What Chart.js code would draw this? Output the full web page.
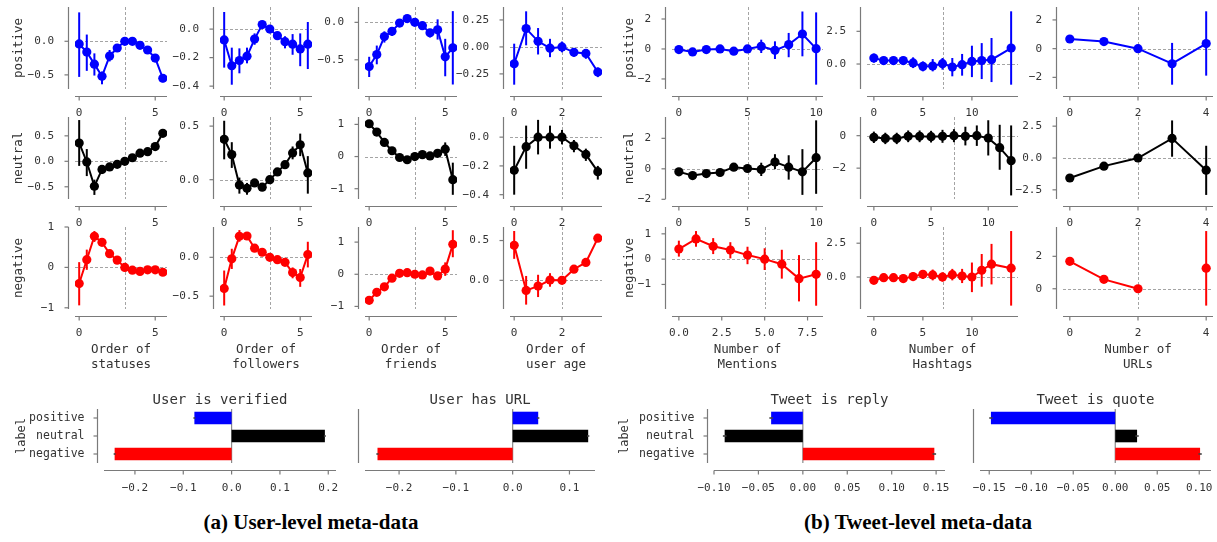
<!DOCTYPE html>
<html><head><meta charset="utf-8">
<script src="https://cdn.jsdelivr.net/npm/chart.js@4.4.0/dist/chart.umd.min.js"></script>
<style>
html,body{margin:0;padding:0;background:#fff;}
#wrap{position:relative;width:1217px;height:542px;overflow:hidden;background:#fff;}
canvas{position:absolute;}
.cap{position:absolute;font-family:'Liberation Serif',serif;font-weight:bold;font-size:21px;line-height:24px;color:#000;white-space:nowrap;transform:translateX(-50%);}
</style></head><body><div id="wrap">
<div class="cap" style="left:311px;top:510px">(a) User-level meta-data</div>
<div class="cap" style="left:918px;top:510px">(b) Tweet-level meta-data</div>
</div>
<script>
// ---------- x positions ----------
const xHalf = [0,0.5,1,1.5,2,2.5,3,3.5,4,4.5,5,5.5];
const xAge = [0,0.5,1,1.5,2,2.5,3,3.5];
const xMent = [0,1,2,3,4,5,6,7,8,9,10];
const xMentNeg = [0,1,2,3,4,5,6,7,8];
const xHash = [0,1,2,3,4,5,6,7,8,9,10,11,12,14];
const xHashNeu = [0,1,2,3,4,5,6,7,8,9,10,11,12];
const xUrl = [0,1,2,3,4];

// ---------- positive row ----------
const statusesPos   = [-0.04,-0.16,-0.34,-0.52,-0.22,-0.10,0.0,0.0,-0.06,-0.13,-0.25,-0.55];
const statusesPosLo = [-0.53,-0.44,-0.51,-0.64,-0.30,-0.15,-0.03,-0.03,-0.09,-0.16,-0.29,-0.61];
const statusesPosHi = [0.43,0.10,-0.18,-0.45,-0.13,-0.05,0.03,0.03,-0.03,-0.10,-0.21,-0.49];
const followersPos   = [-0.076,-0.257,-0.22,-0.19,-0.07,0.032,0.0,-0.046,-0.088,-0.106,-0.139,-0.106];
const followersPosLo = [-0.27,-0.39,-0.31,-0.24,-0.11,0.01,-0.02,-0.07,-0.135,-0.18,-0.26,-0.28];
const followersPosHi = [0.12,-0.13,-0.135,-0.13,-0.03,0.05,0.02,-0.02,-0.05,-0.035,-0.03,0.05];
const friendsPos   = [-0.59,-0.43,-0.19,-0.12,-0.01,0.05,0.0,-0.045,-0.14,-0.10,-0.46,-0.34];
const friendsPosLo = [-0.73,-0.56,-0.27,-0.18,-0.05,0.01,-0.03,-0.08,-0.20,-0.23,-0.72,-0.83];
const friendsPosHi = [-0.46,-0.31,-0.12,-0.08,0.02,0.08,0.03,-0.01,-0.09,0.04,-0.22,0.15];
const agePos   = [-0.156,0.17,0.052,-0.012,0.0,-0.05,-0.06,-0.233];
const agePosLo = [-0.35,0.015,-0.07,-0.095,-0.05,-0.09,-0.11,-0.28];
const agePosHi = [0.03,0.33,0.175,0.075,0.05,-0.02,-0.025,-0.19];
const mentPos   = [-0.04,-0.2,-0.04,0.0,-0.15,0.0,0.18,-0.09,0.29,1.0,0.02];
const mentPosLo = [-0.2,-0.35,-0.2,-0.17,-0.35,-0.15,-0.27,-0.67,-0.55,-0.49,-2.38];
const mentPosHi = [0.12,-0.05,0.12,0.17,0.05,0.15,0.62,0.51,1.07,2.5,2.44];
const hashPos   = [0.46,0.26,0.26,0.26,0.08,-0.18,-0.15,0.03,-0.23,-0.05,0.2,0.26,0.33,1.22];
const hashPosLo = [0.1,-0.05,-0.05,-0.05,-0.31,-0.56,-0.56,-0.43,-0.94,-0.89,-1.0,-1.15,-1.38,-1.58];
const hashPosHi = [0.8,0.55,0.55,0.55,0.51,0.2,0.38,0.46,0.46,0.77,1.4,1.6,1.99,4.03];
const urlPos   = [0.67,0.49,0.0,-1.05,0.35];
const urlPosLo = [0.55,0.37,-0.1,-2.51,-1.88];
const urlPosHi = [0.79,0.61,0.1,0.4,2.6];

// ---------- neutral row ----------
const statusesNeu   = [0.36,-0.013,-0.49,-0.16,-0.11,-0.06,0.0,0.07,0.16,0.19,0.29,0.55];
const statusesNeuLo = [-0.09,-0.29,-0.66,-0.25,-0.17,-0.10,-0.03,0.03,0.11,0.14,0.24,0.5];
const statusesNeuHi = [0.81,0.24,-0.36,-0.08,-0.05,-0.02,0.03,0.11,0.21,0.24,0.34,0.6];
const followersNeu   = [0.377,0.234,-0.05,-0.08,-0.03,-0.07,0.0,0.073,0.14,0.25,0.326,0.063];
const followersNeuLo = [0.19,0.11,-0.13,-0.14,-0.06,-0.1,-0.02,0.05,0.11,0.19,0.22,-0.13];
const followersNeuHi = [0.55,0.35,0.02,-0.03,0.0,-0.04,0.02,0.1,0.17,0.31,0.43,0.22];
const friendsNeu   = [1.02,0.76,0.44,0.18,-0.03,-0.1,0.0,0.06,0.02,0.1,0.23,-0.72];
const friendsNeuLo = [0.97,0.70,0.38,0.12,-0.08,-0.15,-0.04,0.01,-0.03,0.05,0.02,-1.19];
const friendsNeuHi = [1.07,0.82,0.5,0.24,0.02,-0.05,0.04,0.11,0.07,0.15,0.44,-0.19];
const ageNeu   = [-0.23,-0.066,0.0,0.0,0.0,-0.06,-0.12,-0.24];
const ageNeuLo = [-0.40,-0.22,-0.12,-0.08,-0.05,-0.105,-0.165,-0.295];
const ageNeuHi = [-0.06,0.08,0.12,0.08,0.05,-0.02,-0.08,-0.2];
const mentNeu   = [-0.2,-0.44,-0.31,-0.24,0.11,0.02,-0.04,0.44,0.11,-0.2,0.73];
const mentNeuLo = [-0.3,-0.55,-0.45,-0.38,-0.05,-0.15,-0.47,-0.02,-0.71,-1.71,-1.64];
const mentNeuHi = [-0.1,-0.33,-0.17,-0.1,0.27,0.19,0.4,0.96,0.89,1.29,3.18];
const hashNeu   = [-0.1,-0.17,-0.17,-0.04,-0.04,-0.06,-0.04,0.0,-0.04,0.0,-0.15,-0.74,-1.54];
const hashNeuLo = [-0.45,-0.52,-0.52,-0.4,-0.4,-0.42,-0.44,-0.4,-0.6,-0.63,-1.22,-2.1,-3.68];
const hashNeuHi = [0.25,0.18,0.18,0.32,0.32,0.3,0.36,0.4,0.55,0.63,0.95,0.67,0.63];
const urlNeu   = [-1.57,-0.64,0.0,1.54,-0.96];
const urlNeuLo = [-1.7,-0.77,-0.1,0.1,-2.9];
const urlNeuHi = [-1.44,-0.51,0.1,2.95,0.96];

// ---------- negative row ----------
const statusesNeg   = [-0.4,0.19,0.77,0.62,0.34,0.18,0.0,-0.07,-0.1,-0.06,-0.06,-0.12];
const statusesNegLo = [-0.94,-0.06,0.63,0.54,0.27,0.12,-0.04,-0.11,-0.14,-0.1,-0.1,-0.16];
const statusesNegHi = [0.13,0.44,0.9,0.7,0.41,0.24,0.04,-0.03,-0.06,-0.02,-0.02,-0.08];
const followersNeg   = [-0.4,-0.02,0.27,0.274,0.117,0.065,0.0,-0.03,-0.065,-0.196,-0.26,0.035];
const followersNegLo = [-0.62,-0.15,0.2,0.23,0.08,0.03,-0.03,-0.06,-0.1,-0.27,-0.38,-0.13];
const followersNegHi = [-0.17,0.11,0.35,0.31,0.15,0.1,0.03,0.0,-0.03,-0.13,-0.15,0.2];
const friendsNeg   = [-0.81,-0.56,-0.39,-0.12,0.03,0.05,0.0,-0.02,0.1,-0.05,0.16,0.93];
const friendsNegLo = [-0.88,-0.64,-0.47,-0.2,-0.02,0.0,-0.04,-0.07,0.04,-0.11,-0.05,0.53];
const friendsNegHi = [-0.74,-0.48,-0.31,-0.04,0.08,0.1,0.04,0.03,0.16,0.01,0.37,1.37];
const ageNeg   = [0.44,-0.127,-0.072,0.004,0.0,0.14,0.225,0.53];
const ageNegLo = [0.27,-0.305,-0.21,-0.08,-0.03,0.1,0.19,0.5];
const ageNegHi = [0.62,0.055,0.07,0.09,0.03,0.18,0.26,0.56];
const mentNeg   = [0.4,0.8,0.51,0.36,0.16,0.0,-0.2,-0.77,-0.6];
const mentNegLo = [0.1,0.49,0.2,0.03,-0.2,-0.43,-0.77,-1.67,-1.84];
const mentNegHi = [0.73,1.11,0.83,0.67,0.49,0.43,0.37,0.16,0.67];
const hashNeg   = [-0.25,-0.05,-0.05,-0.12,0.03,0.2,0.15,0.0,0.17,0.07,0.0,0.5,0.95,0.65];
const hashNegLo = [-0.5,-0.35,-0.35,-0.42,-0.3,-0.15,-0.25,-0.35,-0.25,-0.45,-1.12,-0.72,-0.55,-2.12];
const hashNegHi = [0.0,0.25,0.25,0.18,0.35,0.5,0.55,0.35,0.6,0.6,1.07,1.7,2.45,3.4];
const urlNeg   = [1.69,0.58,0.0,null,1.27];
const urlNegLo = [1.55,0.45,-0.12,null,-1.04];
const urlNegHi = [1.83,0.71,0.12,null,3.56];

// ---------- tick values ----------
const xt05 = [0,5], xtAge = [0,2], xtMent = [0,5,10], xtMentNeg = [0,2.5,5,7.5], xtHash = [0,5,10], xtUrl = [0,2,4];
const ytStatusesPos = [0,-0.5], ytFollowersPos = [0,-0.2,-0.4], ytFriendsPos = [0,-0.5], ytAgePos = [0.25,0,-0.25];
const ytMentPos = [2,0,-2], ytHashPos = [2.5,0], ytUrlPos = [2,0,-2];
const ytStatusesNeu = [0.5,0,-0.5], ytFollowersNeu = [0.5,0], ytFriendsNeu = [1,0,-1], ytAgeNeu = [0,-0.2,-0.4];
const ytMentNeu = [2,0,-2], ytHashNeu = [0,-2], ytUrlNeu = [2.5,0,-2.5];
const ytStatusesNeg = [1,0,-1], ytFollowersNeg = [0,-0.5], ytFriendsNeg = [1,0,-1], ytAgeNeg = [0.5,0];
const ytMentNeg = [1,0,-1], ytHashNeg = [2.5,0], ytUrlNeg = [2,0];
const rowNames = ['positive','neutral','negative'];
const xTitles = [['Order of','statuses'],['Order of','followers'],['Order of','friends'],['Order of','user age'],['Number of','Mentions'],['Number of','Hashtags'],['Number of','URLs']];

// ---------- bar data ----------
const barLabels = ['positive','neutral','negative'];
const verifiedVals = [-0.077,0.193,-0.242];
const hasUrlVals = [0.045,0.133,-0.238];
const replyVals = [-0.0357,-0.088,0.148];
const quoteVals = [-0.148,0.026,0.101];
const barErr = [0.002,0.002,0.002];
const barTitles = ['User is verified','User has URL','Tweet is reply','Tweet is quote'];
const xtVerified = [-0.2,-0.1,0,0.1,0.2], xtHasUrl = [-0.2,-0.1,0,0.1];
const xtReply = [-0.10,-0.05,0,0.05,0.10,0.15], xtQuote = [-0.15,-0.10,-0.05,0,0.05,0.10];

// ---------- drawing ----------
const wrap = document.getElementById('wrap');
const SPINE = '#7a7a7a', TXT = '#333', MONO = "'DejaVu Sans Mono', monospace";
const OFF = 7, TICK = 4;
const COLORS = ['#0000ff','#000000','#ff0000'];
function fmt(v,d){ const a = Math.abs(v) < 1e-9 ? 0 : v; return (a<0?'\u2212':'') + Math.abs(a).toFixed(d); }

const deco = {
  id:'deco',
  beforeDatasetsDraw(chart, args, o){
    const {ctx, chartArea:a, scales:{x,y}} = chart;
    const ln=(x1,y1,x2,y2)=>{ctx.beginPath();ctx.moveTo(x1,y1);ctx.lineTo(x2,y2);ctx.stroke();};
    ctx.save();
    ctx.strokeStyle = '#9a9a9a'; ctx.lineWidth = 0.9; ctx.setLineDash([3,2]);
    if (o.hzero) { const py = Math.round(y.getPixelForValue(0))+0.5; ln(a.left,py,a.right,py); }
    if (o.vline != null) { const px = Math.round(x.getPixelForValue(o.vline))+0.5; ln(px,a.top,px,a.bottom); }
    ctx.setLineDash([]);
    if (o.zero) { ctx.strokeStyle = '#8a8a8a'; ctx.lineWidth = 1.2; const px = x.getPixelForValue(0); ln(px,a.top,px,a.bottom); }
    chart.data.datasets.forEach(ds => {
      if (!ds.errLo) return;
      ctx.strokeStyle = ds.borderColor; ctx.lineWidth = 2;
      ds.data.forEach((p,i) => {
        if (p.y == null) return;
        const px = x.getPixelForValue(p.x);
        ln(px, y.getPixelForValue(ds.errLo[i]), px, y.getPixelForValue(ds.errHi[i]));
      });
    });
    ctx.restore();
  },
  afterDatasetsDraw(chart, args, o){
    if (!o.barErr) return;
    const {ctx, scales:{x,y}} = chart;
    ctx.save(); ctx.strokeStyle = '#424242'; ctx.lineWidth = 1.6;
    chart.data.datasets[0].data.forEach((v,i) => {
      const py = y.getPixelForTick(i), e = o.barErr[i];
      ctx.beginPath(); ctx.moveTo(x.getPixelForValue(v-e), py); ctx.lineTo(x.getPixelForValue(v+e), py); ctx.stroke();
    });
    ctx.restore();
  },
  afterDraw(chart, args, o){
    const {ctx, chartArea:a, scales:{x,y}} = chart;
    const ln=(x1,y1,x2,y2)=>{ctx.beginPath();ctx.moveTo(x1,y1);ctx.lineTo(x2,y2);ctx.stroke();};
    ctx.save();
    ctx.strokeStyle = SPINE; ctx.lineWidth = 1.2;
    const lx = Math.round(a.left - OFF) + 0.5, by = Math.round(a.bottom + OFF) + 0.5;
    ln(lx, a.top, lx, a.bottom);
    ln(a.left, by, a.right, by);
    if (o.yTicks !== false) y.ticks.forEach((t,i) => { const py = y.getPixelForTick(i); ln(lx-TICK, py, lx, py); });
    x.ticks.forEach((t,i) => { const px = x.getPixelForTick(i); ln(px, by, px, by+TICK); });
    ctx.restore();
  }
};

function addCanvas(left, top, w, h){
  const cv = document.createElement('canvas');
  cv.width = w; cv.height = h;
  cv.style.left = left+'px'; cv.style.top = top+'px';
  cv.style.width = w+'px'; cv.style.height = h+'px';
  wrap.appendChild(cv);
  return cv;
}

function lineChart(o){
  const Wy = 70, PT = 32, PR = 40, Hx = o.xlab ? 72 : 34;
  const cv = addCanvas(o.left - Wy, o.top - PT, Wy + o.w + PR, PT + o.h + Hx);
  new Chart(cv, {
    type:'line',
    data:{datasets:[{
      data:o.xs.map((x,i)=>({x:x, y:o.ys[i]})), errLo:o.lo, errHi:o.hi,
      borderColor:o.color, backgroundColor:o.color, borderWidth:2,
      pointRadius:4.6, pointHoverRadius:4.6, pointBorderWidth:0, pointBackgroundColor:o.color,
      tension:0, spanGaps:false
    }]},
    options:{
      responsive:false, animation:false, devicePixelRatio:1, events:[],
      layout:{padding:{top:PT, right:PR, left:0, bottom:0}},
      plugins:{legend:{display:false}, tooltip:{enabled:false}, deco:{hzero:true, vline:o.vline}},
      scales:{
        x:{type:'linear', min:o.xr[0], max:o.xr[1],
           afterBuildTicks:s=>{s.ticks = o.xt.map(v=>({value:v}));}, afterFit:s=>{s.height = Hx;},
           grid:{display:false, drawTicks:false}, border:{display:false},
           ticks:{padding:17.4, color:TXT, font:{family:MONO, size:11}, maxRotation:0, autoSkip:false, callback:v=>fmt(v,o.xf)},
           title:{display:!!o.xlab, text:o.xlab || '', color:TXT, font:{family:MONO, size:12.5}, padding:{top:0, bottom:8.5}}},
        y:{type:'linear', min:o.yr[0], max:o.yr[1],
           afterBuildTicks:s=>{s.ticks = o.yt.map(v=>({value:v}));}, afterFit:s=>{s.width = Wy;},
           grid:{display:false, drawTicks:false}, border:{display:false},
           ticks:{padding:21, color:TXT, font:{family:MONO, size:11}, autoSkip:false, callback:v=>fmt(v,o.yf)},
           title:{display:!!o.ylab, text:o.ylab || '', color:TXT, font:{family:MONO, size:12.5}, padding:{top:o.ylabPad || 0, bottom:0}}}
      }
    },
    plugins:[deco]
  });
}

function barChart(o){
  const Wy = 96, PR = 96, Hx = 34, PT = 40;
  const cv = addCanvas(o.left - Wy, o.top - PT, Wy + o.w + PR, PT + o.h + Hx);
  new Chart(cv, {
    type:'bar',
    data:{labels:barLabels, datasets:[{data:o.vals, backgroundColor:COLORS, borderWidth:0, barPercentage:0.7, categoryPercentage:1.0}]},
    options:{
      indexAxis:'y', responsive:false, animation:false, devicePixelRatio:1, events:[],
      layout:{padding:{top:0, right:PR, left:0, bottom:0}},
      plugins:{legend:{display:false}, tooltip:{enabled:false},
        title:{display:true, text:o.title, fullSize:false, color:TXT, font:{family:MONO, size:14, weight:'normal'}, padding:{top:PT-24+6.6, bottom:0.6}},
        deco:{zero:true, yTicks:o.showY, barErr:barErr}},
      scales:{
        x:{type:'linear', min:o.xr[0], max:o.xr[1],
           afterBuildTicks:s=>{s.ticks = o.xt.map(v=>({value:v}));}, afterFit:s=>{s.height = Hx;},
           grid:{display:false, drawTicks:false}, border:{display:false},
           ticks:{padding:18.4, color:TXT, font:{family:MONO, size:11}, maxRotation:0, autoSkip:false, callback:v=>fmt(v,o.xf)}},
        y:{type:'category', afterFit:s=>{s.width = Wy;},
           grid:{display:false, drawTicks:false}, border:{display:false},
           ticks:{display:o.showY, padding:19.5, color:TXT, font:{family:MONO, size:11.5}},
           title:{display:o.showY, text:'label', color:TXT, font:{family:MONO, size:12}, padding:{top:o.ylabPad || 0, bottom:0}}}
      }
    },
    plugins:[deco]
  });
}

// layout of the grid
const colLeft = [75,220,365,510,672,867,1063];
const colW = [92,92,92,92,151,151,150];
const rowTop = [7,117,227];
const rowH = 82;

const grid = [
  [ {xs:xHalf, ys:statusesPos, lo:statusesPosLo, hi:statusesPosHi, xr:[-0.275,5.775], yr:[-0.71,0.51], xt:xt05, yt:ytStatusesPos, yf:1, vline:3},
    {xs:xHalf, ys:followersPos, lo:followersPosLo, hi:followersPosHi, xr:[-0.275,5.775], yr:[-0.42,0.155], xt:xt05, yt:ytFollowersPos, yf:1, vline:3},
    {xs:xHalf, ys:friendsPos, lo:friendsPosLo, hi:friendsPosHi, xr:[-0.275,5.775], yr:[-0.89,0.205], xt:xt05, yt:ytFriendsPos, yf:1, vline:3},
    {xs:xAge, ys:agePos, lo:agePosLo, hi:agePosHi, xr:[-0.175,3.675], yr:[-0.39,0.37], xt:xtAge, yt:ytAgePos, yf:2, vline:2},
    {xs:xMent, ys:mentPos, lo:mentPosLo, hi:mentPosHi, xr:[-0.5,10.5], yr:[-2.67,2.8], xt:xtMent, yt:ytMentPos, yf:0, vline:5},
    {xs:xHash, ys:hashPos, lo:hashPosLo, hi:hashPosHi, xr:[-0.7,14.7], yr:[-1.91,4.36], xt:xtHash, yt:ytHashPos, yf:1, vline:7},
    {xs:xUrl, ys:urlPos, lo:urlPosLo, hi:urlPosHi, xr:[-0.2,4.2], yr:[-2.81,2.9], xt:xtUrl, yt:ytUrlPos, yf:0, vline:2} ],
  [ {xs:xHalf, ys:statusesNeu, lo:statusesNeuLo, hi:statusesNeuHi, xr:[-0.275,5.775], yr:[-0.74,0.87], xt:xt05, yt:ytStatusesNeu, yf:1, vline:3},
    {xs:xHalf, ys:followersNeu, lo:followersNeuLo, hi:followersNeuHi, xr:[-0.275,5.775], yr:[-0.18,0.585], xt:xt05, yt:ytFollowersNeu, yf:1, vline:3},
    {xs:xHalf, ys:friendsNeu, lo:friendsNeuLo, hi:friendsNeuHi, xr:[-0.275,5.775], yr:[-1.32,1.23], xt:xt05, yt:ytFriendsNeu, yf:0, vline:3},
    {xs:xAge, ys:ageNeu, lo:ageNeuLo, hi:ageNeuHi, xr:[-0.175,3.675], yr:[-0.43,0.14], xt:xtAge, yt:ytAgeNeu, yf:1, vline:2},
    {xs:xMent, ys:mentNeu, lo:mentNeuLo, hi:mentNeuHi, xr:[-0.5,10.5], yr:[-1.98,3.4], xt:xtMent, yt:ytMentNeu, yf:0, vline:5},
    {xs:xHashNeu, ys:hashNeu, lo:hashNeuLo, hi:hashNeuHi, xr:[-0.6,12.6], yr:[-3.9,1.15], xt:xtHash, yt:ytHashNeu, yf:0, vline:7},
    {xs:xUrl, ys:urlNeu, lo:urlNeuLo, hi:urlNeuHi, xr:[-0.2,4.2], yr:[-3.22,3.22], xt:xtUrl, yt:ytUrlNeu, yf:1, vline:2} ],
  [ {xs:xHalf, ys:statusesNeg, lo:statusesNegLo, hi:statusesNegHi, xr:[-0.275,5.775], yr:[-1.03,1.0], xt:xt05, yt:ytStatusesNeg, yf:0, vline:3},
    {xs:xHalf, ys:followersNeg, lo:followersNegLo, hi:followersNegHi, xr:[-0.275,5.775], yr:[-0.665,0.39], xt:xt05, yt:ytFollowersNeg, yf:1, vline:3},
    {xs:xHalf, ys:friendsNeg, lo:friendsNegLo, hi:friendsNegHi, xr:[-0.275,5.775], yr:[-1.08,1.47], xt:xt05, yt:ytFriendsNeg, yf:0, vline:3},
    {xs:xAge, ys:ageNeg, lo:ageNegLo, hi:ageNegHi, xr:[-0.175,3.675], yr:[-0.36,0.67], xt:xtAge, yt:ytAgeNeg, yf:1, vline:2},
    {xs:xMentNeg, ys:mentNeg, lo:mentNegLo, hi:mentNegHi, xr:[-0.4,8.4], yr:[-1.97,1.27], xt:xtMentNeg, yt:ytMentNeg, yf:0, xf:1, vline:5},
    {xs:xHash, ys:hashNeg, lo:hashNegLo, hi:hashNegHi, xr:[-0.7,14.7], yr:[-2.37,3.7], xt:xtHash, yt:ytHashNeg, yf:1, vline:7},
    {xs:xUrl, ys:urlNeg, lo:urlNegLo, hi:urlNegHi, xr:[-0.2,4.2], yr:[-1.25,3.81], xt:xtUrl, yt:ytUrlNeg, yf:0, vline:2} ]
];

grid.forEach((row, r) => row.forEach((c, k) => {
  const cfg = Object.assign({xf:0}, c, {left:colLeft[k], top:rowTop[r], w:colW[k], h:rowH, color:COLORS[r]});
  if (k === 0) { cfg.ylab = rowNames[r]; cfg.ylabPad = 6.5; }
  if (k === 4) { cfg.ylab = rowNames[r]; cfg.ylabPad = 20.5; }
  if (r === 2) cfg.xlab = xTitles[k];
  lineChart(cfg);
}));

barChart({left:104, top:409, w:232, h:54, vals:verifiedVals, xr:[-0.264,0.216], xt:xtVerified, xf:1, title:barTitles[0], showY:true, ylabPad:6.2});
barChart({left:365, top:409, w:230, h:54, vals:hasUrlVals, xr:[-0.26,0.145], xt:xtHasUrl, xf:1, title:barTitles[1], showY:false});
barChart({left:714, top:409, w:231, h:54, vals:replyVals, xr:[-0.1,0.16], xt:xtReply, xf:2, title:barTitles[2], showY:true, ylabPad:0});
barChart({left:980, top:409, w:231, h:54, vals:quoteVals, xr:[-0.161,0.114], xt:xtQuote, xf:2, title:barTitles[3], showY:false});
</script>
</body></html>
